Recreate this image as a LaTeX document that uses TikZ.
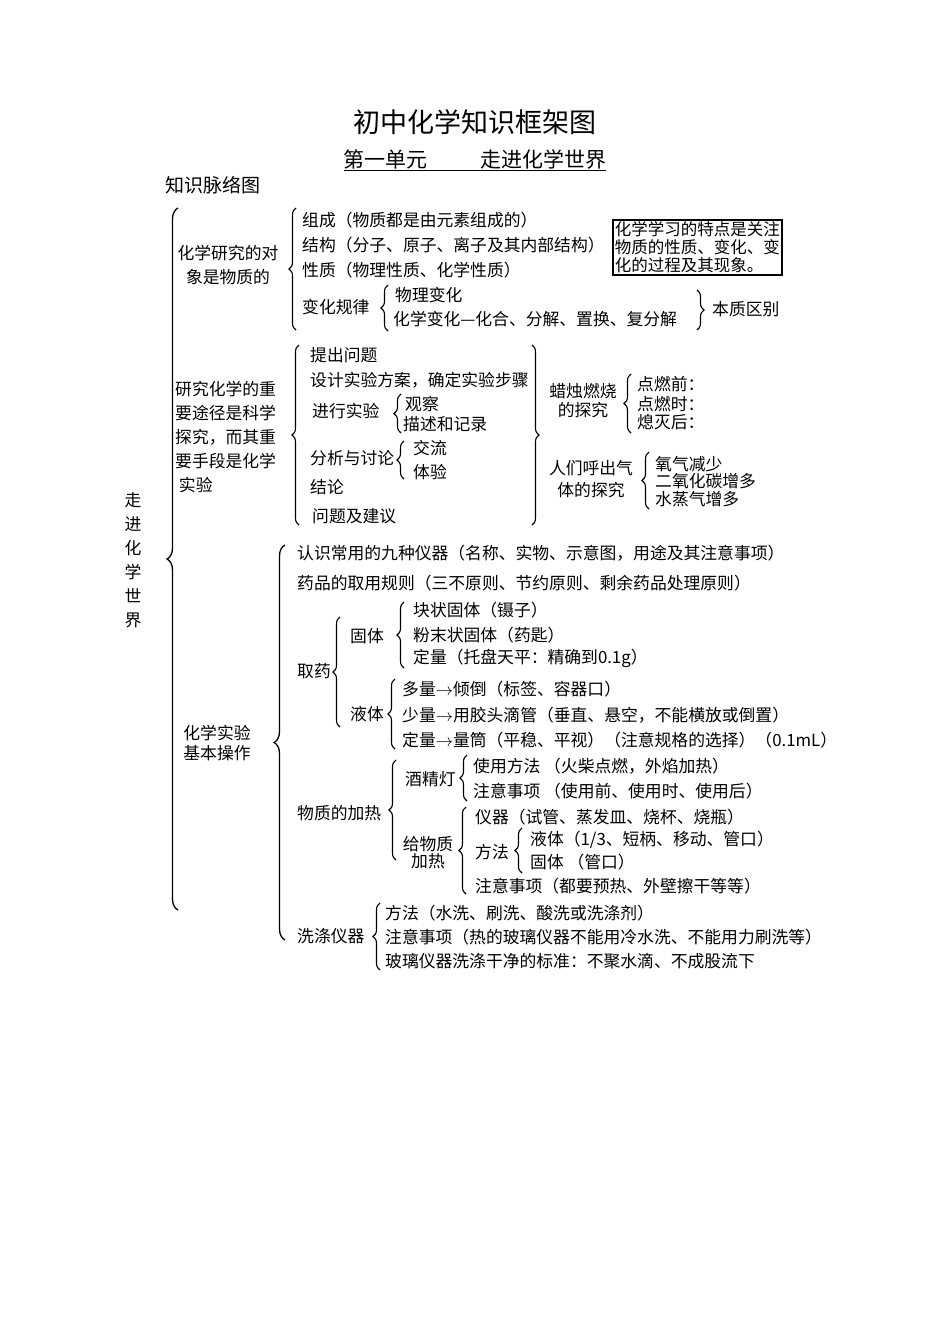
\documentclass[tikz,border=0pt]{standalone}
\usepackage{fontspec}
\setmainfont{Noto Sans CJK SC}
\usetikzlibrary{decorations.pathreplacing}
\begin{document}
\begin{tikzpicture}[x=1pt,y=-1pt,
  txt/.style={anchor=west,inner sep=0pt,font=\fontsize{16.8}{18}\selectfont},
  ctr/.style={align=center,inner sep=0pt,font=\fontsize{16.8}{24}\selectfont},
  br/.style={decorate,decoration={brace,amplitude=7pt},line width=1.1pt},
  bigbr/.style={decorate,decoration={brace,amplitude=11pt},line width=1.3pt}]
\useasboundingbox (0,0) rectangle (950,1344);
\node[inner sep=0pt,font=\fontsize{27}{30}\selectfont] (title) at (475,122) {初中化学知识框架图};
\node[inner sep=0pt,font=\fontsize{21}{24}\selectfont] (unit) at (475,160) {\underline{第一单元\hspace{2.5em}走进化学世界}};
\node[txt,font=\fontsize{19}{22}\selectfont] (mai) at (165,185) {知识脉络图};
% big brace
\draw[bigbr] (178,910) -- (178,208);
\node[ctr,align=center,font=\fontsize{16.8}{24}\selectfont] (vert) at (133,560) {走\\进\\化\\学\\世\\界};
% section 1
\node[ctr] (s1) at (228,265) {化学研究的对\\象是物质的};
\draw[br] (296,330) -- (296,208);
\node[txt] (a1) at (302,220) {组成（物质都是由元素组成的）};
\node[txt] (a2) at (302,245) {结构（分子、原子、离子及其内部结构）};
\node[txt] (a3) at (302,270) {性质（物理性质、化学性质）};
\node[txt] (a4) at (302,307) {变化规律};
\draw[br] (388,331) -- (388,285);
\node[txt] (a5) at (395,295) {物理变化};
\node[txt] (a6) at (393,319) {化学变化—化合、分解、置换、复分解};
\draw[br] (697,290) -- (697,330);
\node[txt] (a7) at (712,309) {本质区别};
\node[draw,line width=1.5pt,align=left,inner sep=2pt,anchor=north west,
  font=\fontsize{16.5}{18}\selectfont] (box) at (612,219) {化学学习的特点是关注\\物质的性质、变化、变\\化的过程及其现象。};
% section 2
\node[ctr,align=left,anchor=west] (s2) at (175,437) {研究化学的重\\要途径是科学\\探究，而其重\\要手段是化学\\\ 实验};
\draw[br] (299,525) -- (299,345);
\node[txt] (b1) at (310,355) {提出问题};
\node[txt] (b2) at (310,380) {设计实验方案，确定实验步骤};
\node[txt] (b3) at (312,411) {进行实验};
\draw[br] (401,433) -- (401,394);
\node[txt] (b4) at (405,404) {观察};
\node[txt] (b5) at (403,424) {描述和记录};
\node[txt] (b6) at (310,458) {分析与讨论};
\draw[br] (404,479) -- (404,441);
\node[txt] (b7) at (413,448) {交流};
\node[txt] (b8) at (413,472) {体验};
\node[txt] (b9) at (310,487) {结论};
\node[txt] (b10) at (312,516) {问题及建议};
\draw[br] (532,345) -- (532,525);
\node[ctr,font=\fontsize{16.8}{19}\selectfont] (c1) at (583,401) {蜡烛燃烧\\的探究};
\draw[br] (631,433) -- (631,374);
\node[txt] (c2) at (637,384) {点燃前：};
\node[txt] (c3) at (637,404) {点燃时：};
\node[txt] (c4) at (637,422) {熄灭后：};
\node[ctr,font=\fontsize{16.8}{22}\selectfont] (d1) at (591,479) {人们呼出气\\体的探究};
\draw[br] (649,509) -- (649,452);
\node[txt] (d2) at (655,464) {氧气减少};
\node[txt] (d3) at (655,481) {二氧化碳增多};
\node[txt] (d4) at (655,499) {水蒸气增多};
% section 3
\node[ctr,font=\fontsize{16.8}{20}\selectfont] (s3) at (217,743) {化学实验\\基本操作};
\draw[bigbr] (285,940) -- (285,545);
\node[txt] (e1) at (297,553) {认识常用的九种仪器（名称、实物、示意图，用途及其注意事项）};
\node[txt] (e2) at (297,583) {药品的取用规则（三不原则、节约原则、剩余药品处理原则）};
\node[txt] (f0) at (297,671) {取药};
\draw[br] (340,727) -- (340,617);
\node[txt] (f1) at (350,636) {固体};
\draw[br] (404,668) -- (404,602);
\node[txt] (f2) at (413,610) {块状固体（镊子）};
\node[txt] (f3) at (413,635) {粉末状固体（药匙）};
\node[txt] (f4) at (413,658) {定量（托盘天平：精确到0.1g）};
\node[txt] (g1) at (350,714) {液体};
\draw[br] (395,749) -- (395,679);
\node[txt] (g2) at (402,689) {多量$\rightarrow$倾倒（标签、容器口）};
\node[txt] (g3) at (402,715) {少量$\rightarrow$用胶头滴管（垂直、悬空，不能横放或倒置）};
\node[txt] (g4) at (402,740) {定量$\rightarrow$量筒（平稳、平视）（注意规格的选择）（0.1mL）};
\node[txt] (h0) at (297,813) {物质的加热};
\draw[br] (396,860) -- (396,760);
\node[txt] (h1) at (405,779) {酒精灯};
\draw[br] (467,801) -- (467,755);
\node[txt] (h2) at (473,766) {使用方法 （火柴点燃，外焰加热）};
\node[txt] (h3) at (473,791) {注意事项 （使用前、使用时、使用后）};
\node[ctr,font=\fontsize{16.8}{17}\selectfont] (i0) at (428,853) {给物质\\加热};
\draw[br] (466,894) -- (466,807);
\node[txt] (i1) at (475,817) {仪器（试管、蒸发皿、烧杯、烧瓶）};
\node[txt] (i2) at (475,852) {方法};
\draw[br] (522,873) -- (522,828);
\node[txt] (i3) at (530,840) {液体（1/3、短柄、移动、管口）};
\node[txt] (i4) at (530,862) {固体 （管口）};
\node[txt] (i5) at (475,886) {注意事项（都要预热、外壁擦干等等）};
\node[txt] (j0) at (297,936) {洗涤仪器};
\draw[br] (380,970) -- (380,903);
\node[txt] (j1) at (385,913) {方法（水洗、刷洗、酸洗或洗涤剂）};
\node[txt] (j2) at (385,937) {注意事项（热的玻璃仪器不能用冷水洗、不能用力刷洗等）};
\node[txt] (j3) at (385,961) {玻璃仪器洗涤干净的标准：不聚水滴、不成股流下};
\end{tikzpicture}
\end{document}
